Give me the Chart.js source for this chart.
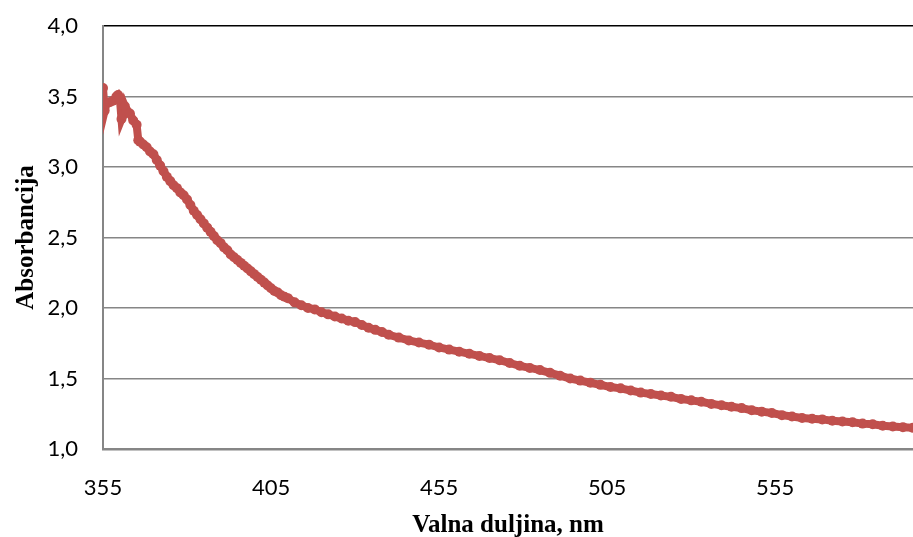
<!DOCTYPE html>
<html>
<head>
<meta charset="utf-8">
<script src="https://cdn.jsdelivr.net/npm/chart.js@4/dist/chart.umd.min.js"></script>
<style>
  html, body { margin: 0; padding: 0; background: #fff; }
  #wrap { width: 913px; height: 537px; }
</style>
</head>
<body>
<div id="wrap"><canvas id="c"></canvas></div>
<script>
// Absorpcijski spektar: valna duljina (nm) -> absorbancija

const wavelength = [
  355, 355.5, 356, 357, 358, 359, 359.5, 360, 360.5, 361, 361.5, 362, 363, 364, 365, 365.5,
  366, 367, 368, 369, 370, 371, 372, 373, 374, 375, 376, 377, 378, 379, 380,
  381, 382, 383, 384, 385, 386, 387, 388, 389, 390, 391, 392, 393, 394, 395,
  396, 397, 398, 399, 400, 401, 402, 403, 404, 405, 406, 407, 408, 409, 410,
  412, 414, 416, 418, 420, 422, 424, 426, 428, 430, 432, 434, 436, 438, 440,
  443, 446, 449, 452, 455, 458, 461, 464, 467, 470, 473, 476, 479, 482, 485,
  488, 491, 494, 497, 500, 503, 506, 509, 512, 515, 518, 521, 524, 527, 530,
  533, 536, 539, 542, 545, 548, 551, 554, 557, 560, 563, 566, 569, 572, 575,
  578, 581, 584, 587, 590, 593, 596
];
const absorbance = [
  3.56, 3.40, 3.45, 3.46, 3.47, 3.50, 3.51, 3.49, 3.34, 3.37, 3.43, 3.40, 3.38, 3.33, 3.30, 3.19,
  3.18, 3.16, 3.14, 3.11, 3.09, 3.05, 3.01, 2.97, 2.93, 2.90, 2.87, 2.85, 2.82, 2.80, 2.77,
  2.73, 2.69, 2.66, 2.63, 2.60, 2.57, 2.54, 2.51, 2.48, 2.46, 2.43, 2.41, 2.38, 2.36, 2.34,
  2.32, 2.30, 2.28, 2.26, 2.24, 2.22, 2.20, 2.18, 2.16, 2.14, 2.12, 2.11, 2.09, 2.08, 2.07,
  2.04, 2.02, 2.00, 1.99, 1.97, 1.955, 1.94, 1.925, 1.91, 1.90, 1.88, 1.86, 1.845, 1.83, 1.81,
  1.79, 1.77, 1.755, 1.74, 1.72, 1.705, 1.69, 1.675, 1.66, 1.645, 1.63, 1.61, 1.59, 1.575, 1.56,
  1.54, 1.52, 1.50, 1.485, 1.47, 1.455, 1.44, 1.43, 1.415, 1.40, 1.39, 1.38, 1.37, 1.355, 1.345,
  1.335, 1.32, 1.31, 1.30, 1.29, 1.275, 1.265, 1.255, 1.24, 1.23, 1.22, 1.215, 1.21, 1.20, 1.195,
  1.19, 1.18, 1.175, 1.165, 1.16, 1.155, 1.15
];
const xTicks = [355, 405, 455, 505, 555];
const yTicks = [1.0, 1.5, 2.0, 2.5, 3.0, 3.5, 4.0];

const SERIES_COLOR = "#C0504D";
const GRID_COLOR = "#868686";
const TICK_FONT = { family: "Lato, 'Open Sans', sans-serif", size: 22 };
const TITLE_FONT = { family: "'Liberation Serif', 'DejaVu Serif', serif", size: 25, weight: "bold" };

const points = wavelength.map((x, i) => ({ x, y: absorbance[i] }));

new Chart(document.getElementById("c"), {
  type: "line",
  data: {
    datasets: [{
      data: points,
      borderColor: SERIES_COLOR,
      backgroundColor: SERIES_COLOR,
      borderWidth: 8,
      pointRadius: 5,
      pointBorderWidth: 0,
      pointBackgroundColor: SERIES_COLOR,
      tension: 0,
    }],
  },
  options: {
    responsive: true,
    maintainAspectRatio: false,
    animation: false,
    // autoPadding off so the plot runs to the right edge like the original
    layout: { autoPadding: false, padding: { top: 26, right: 0, left: 0, bottom: 0 } },
    plugins: { legend: { display: false }, tooltip: { enabled: false } },
    scales: {
      x: {
        type: "linear",
        min: 355,
        max: 596,
        afterBuildTicks: (s) => { s.ticks = xTicks.map((v) => ({ value: v })); },
        afterFit: (s) => { s.height = 88; s.paddingLeft = 0; s.paddingRight = 0; },
        grid: { display: false, drawTicks: false },
        border: { display: true, color: GRID_COLOR, width: 2.5 },
        ticks: { color: "#000", font: TICK_FONT, padding: 26, maxRotation: 0, callback: (v) => String(v) },
        title: { display: true, text: "Valna duljina, nm", color: "#000", font: TITLE_FONT, padding: { top: 0, bottom: -4 } },
      },
      y: {
        min: 1,
        max: 4,
        afterBuildTicks: (s) => { s.ticks = yTicks.map((v) => ({ value: v })); },
        // tick padding would otherwise push the plot top down
        afterFit: (s) => { s.width = 103; s.paddingTop = 0; s.paddingBottom = 0; },
        grid: {
          drawTicks: false,
          color: (c) => (c.tick && c.tick.value === 4 ? "#000" : GRID_COLOR),
          lineWidth: 1.5,
        },
        border: { display: true, color: GRID_COLOR, width: 2 },
        ticks: { color: "#000", font: TICK_FONT, padding: 25, callback: (v) => v.toFixed(1).replace(".", ",") },
        title: { display: true, text: "Absorbancija", color: "#000", font: TITLE_FONT, padding: { top: 12, bottom: 0 } },
      },
    },
  },
});
</script>
</body>
</html>
